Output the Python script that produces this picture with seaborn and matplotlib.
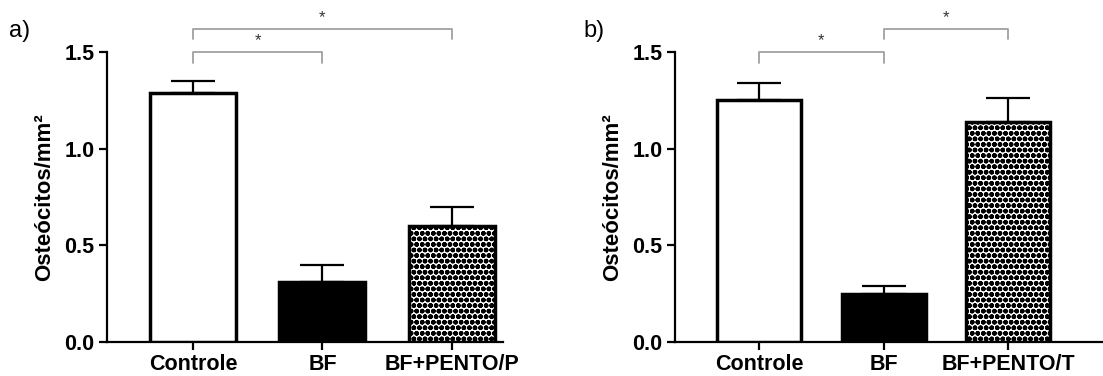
import numpy as np
import seaborn as sns
import matplotlib.pyplot as plt

# valores
grupos_a = ["Controle", "BF", "BF+PENTO/P"]
media_a = [1.29, 0.31, 0.60]
erro_a = [0.058, 0.086, 0.10]

grupos_b = ["Controle", "BF", "BF+PENTO/T"]
media_b = [1.252, 0.247, 1.137]
erro_b = [0.086, 0.043, 0.123]

# comparacoes significativas (indice1, indice2, nivel)
comp_a = [(0, 1, 0), (0, 2, 1)]
comp_b = [(0, 1, 0), (1, 2, 1)]

sns.set_style("ticks", {"axes.edgecolor": "black", "xtick.color": "black",
                        "ytick.color": "black", "text.color": "black",
                        "axes.labelcolor": "black"})
plt.rcParams['font.family'] = ['Liberation Sans', 'DejaVu Sans']
plt.rcParams['hatch.linewidth'] = 1.7

fig = plt.figure(figsize=(11.03, 3.76), dpi=100)
ax_a = fig.add_axes([0.097, 0.0904, 0.359, 0.7713])
ax_b = fig.add_axes([0.612, 0.0904, 0.388, 0.7713])


def painel(ax, grupos, media, erro, comp, largura, xlim, letra, xletra):
    sns.barplot(x=grupos, y=media, hue=grupos, palette=["white", "black", "white"],
                legend=False, width=largura, edgecolor="black", linewidth=2.5,
                ax=ax, zorder=3)
    ax.patches[2].set_hatch("ooo")
    ax.errorbar(range(3), media, yerr=[np.zeros(3), erro], fmt="none",
                ecolor="black", elinewidth=1.6, capsize=16, capthick=1.6, zorder=2)
    ax.set_xlim(*xlim)
    ax.set_ylim(0, 1.5)
    ax.set_yticks([0, 0.5, 1.0, 1.5])
    ax.set_yticklabels(["0.0", "0.5", "1.0", "1.5"])
    sns.despine(ax=ax)
    for s in ["left", "bottom"]:
        ax.spines[s].set_linewidth(1.6)
    ax.tick_params(width=1.6, length=6, labelsize=15.5, pad=3, colors="black")
    ax.tick_params(axis="x", length=6, pad=2.5)
    for t in ax.get_xticklabels() + ax.get_yticklabels():
        t.set_fontweight("bold")
    ax.set_ylabel("Osteócitos/mm²", fontsize=16, fontweight="bold", labelpad=7,
                  color="black")
    ax.set_xlabel("")
    # colchetes de significancia
    for i, j, nivel in comp:
        y = 1.5 + 0.12 * nivel
        ax.plot([i, i, j, j], [y - 0.055, y, y, y - 0.055], color="#a0a0a0",
                lw=1.3, clip_on=False)
        ax.text((i + j) / 2, y + 0.02, "*", ha="center", va="bottom",
                fontsize=12, color="#333333")
    fig.text(xletra, 0.918, letra, fontsize=17, ha="left", va="center",
             color="black")


painel(ax_a, grupos_a, media_a, erro_a, comp_a, 0.664, (-0.664, 2.394), "a)", 0.008)
painel(ax_b, grupos_b, media_b, erro_b, comp_b, 0.674, (-0.674, 2.76), "b)", 0.529)

plt.savefig("out.png", dpi=100)
